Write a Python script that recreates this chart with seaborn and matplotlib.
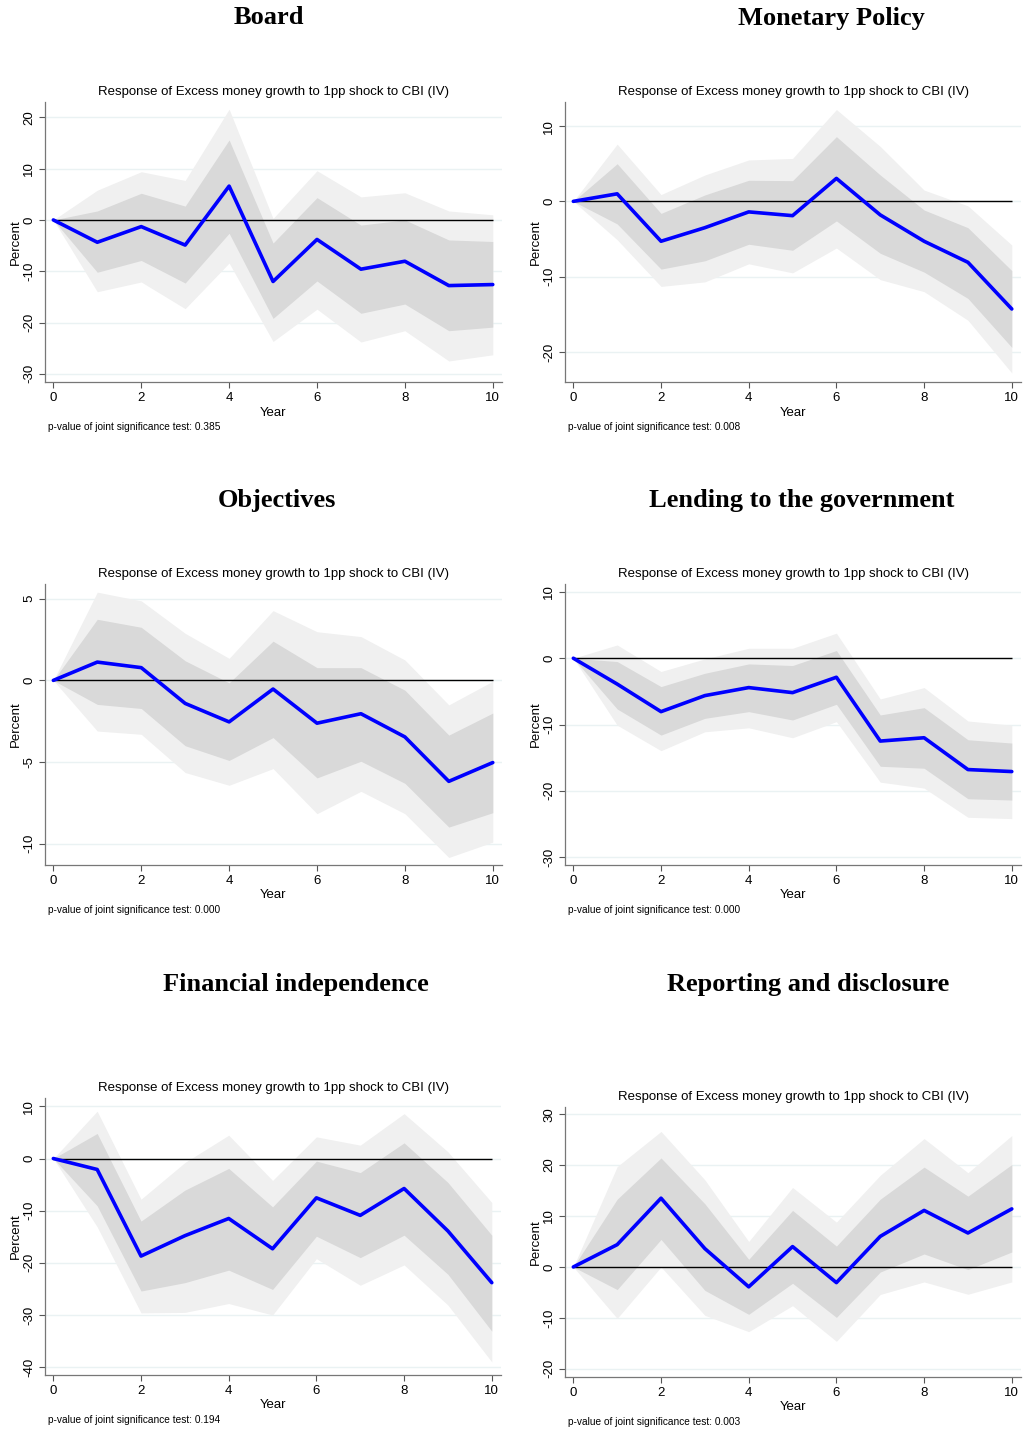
import numpy as np
import pandas as pd
import matplotlib.pyplot as plt
import seaborn as sns

# 기본 스타일
sns.set_style("white", {'xtick.bottom': True, 'ytick.left': True})
plt.rcParams['font.family'] = ['Liberation Sans', 'DejaVu Sans']
plt.rcParams['text.color'] = 'black'
plt.rcParams['axes.labelcolor'] = 'black'
plt.rcParams['xtick.color'] = 'black'
plt.rcParams['ytick.color'] = 'black'

years = list(range(11))

# Board
board_irf = [0, -4.35, -1.3, -4.9, 6.6, -12.0, -3.8, -9.6, -8.05, -12.8, -12.6]
board_hi68 = [0, 1.75, 5.2, 2.7, 15.6, -4.5, 4.35, -1.0, 0.0, -3.9, -4.2]
board_lo68 = [0, -10.2, -7.9, -12.3, -2.6, -19.2, -11.9, -18.2, -16.4, -21.6, -20.9]
board_hi90 = [0, 5.8, 9.4, 7.7, 21.6, 0.3, 9.6, 4.5, 5.3, 1.75, 1.0]
board_lo90 = [0, -14.0, -12.1, -17.3, -8.4, -23.7, -17.4, -23.8, -21.6, -27.5, -26.3]

# Monetary Policy
mp_irf = [0, 1.0, -5.3, -3.5, -1.4, -1.9, 3.05, -1.8, -5.3, -8.1, -14.3]
mp_hi68 = [0, 5.0, -1.6, 0.85, 2.8, 2.75, 8.6, 3.5, -1.15, -3.5, -9.2]
mp_lo68 = [0, -3.0, -9.0, -7.9, -5.7, -6.5, -2.6, -6.9, -9.4, -12.9, -19.4]
mp_hi90 = [0, 7.6, 0.9, 3.5, 5.5, 5.7, 12.2, 7.3, 1.5, -0.6, -5.8]
mp_lo90 = [0, -5.1, -11.3, -10.7, -8.3, -9.5, -6.2, -10.4, -12.0, -15.8, -22.8]

# Objectives
obj_irf = [0, 1.12, 0.78, -1.41, -2.54, -0.53, -2.62, -2.04, -3.46, -6.18, -5.03]
obj_hi68 = [0, 3.74, 3.25, 1.2, -0.15, 2.4, 0.78, 0.78, -0.6, -3.35, -2.0]
obj_lo68 = [0, -1.47, -1.72, -4.0, -4.9, -3.5, -5.97, -4.95, -6.3, -8.98, -8.1]
obj_hi90 = [0, 5.4, 4.87, 2.88, 1.35, 4.27, 2.98, 2.68, 1.25, -1.5, -0.05]
obj_lo90 = [0, -3.1, -3.3, -5.64, -6.42, -5.4, -8.16, -6.79, -8.16, -10.84, -9.9]

# Lending to the government
lend_irf = [0, -3.9, -8.06, -5.64, -4.43, -5.19, -2.87, -12.5, -12.0, -16.8, -17.1]
lend_hi68 = [0, -0.5, -4.28, -2.27, -0.86, -1.1, 1.16, -8.56, -7.46, -12.3, -12.8]
lend_lo68 = [0, -7.66, -11.6, -9.07, -8.06, -9.32, -6.95, -16.3, -16.6, -21.2, -21.4]
lend_hi90 = [0, 2.0, -2.0, -0.1, 1.5, 1.5, 3.78, -6.15, -4.43, -9.47, -10.1]
lend_lo90 = [0, -10.1, -13.95, -11.1, -10.5, -12.0, -9.57, -18.7, -19.6, -24.0, -24.2]

# Financial independence
fin_irf = [0, -2.1, -18.7, -14.8, -11.5, -17.3, -7.54, -10.9, -5.75, -13.9, -23.8]
fin_hi68 = [0, 4.8, -12.0, -6.07, -1.9, -9.27, -0.5, -2.7, 3.0, -4.6, -14.7]
fin_lo68 = [0, -9.07, -25.4, -23.8, -21.4, -25.1, -14.9, -19.0, -14.7, -22.2, -33.1]
fin_hi90 = [0, 9.07, -7.8, -0.77, 4.47, -4.2, 4.15, 2.56, 8.6, 1.28, -8.43]
fin_lo90 = [0, -13.1, -29.6, -29.5, -27.8, -30.0, -19.2, -24.3, -20.4, -28.1, -39.0]

# Reporting and disclosure
rep_irf = [0, 4.38, 13.5, 3.6, -3.9, 4.0, -3.07, 6.0, 11.1, 6.67, 11.4]
rep_hi68 = [0, 13.3, 21.4, 12.4, 1.5, 11.1, 4.1, 13.3, 19.6, 13.9, 20.1]
rep_lo68 = [0, -4.44, 5.4, -4.6, -9.3, -3.2, -9.9, -1.0, 2.55, -0.52, 2.94]
rep_hi90 = [0, 19.7, 26.6, 17.1, 5.0, 15.6, 8.8, 18.0, 25.2, 18.5, 25.8]
rep_lo90 = [0, -10.1, 0.0, -9.5, -12.7, -7.6, -14.6, -5.4, -2.94, -5.36, -2.94]

titles = ['Board', 'Monetary Policy', 'Objectives', 'Lending to the government',
          'Financial independence', 'Reporting and disclosure']
pvalues = ['0.385', '0.008', '0.000', '0.000', '0.194', '0.003']
yticks_list = [[-30, -20, -10, 0, 10, 20], [-20, -10, 0, 10], [-10, -5, 0, 5],
               [-30, -20, -10, 0, 10], [-40, -30, -20, -10, 0, 10], [-20, -10, 0, 10, 20, 30]]
ylims = [(-31.6, 23.0), (-24.0, 13.2), (-11.3, 5.9), (-31.2, 11.2), (-41.5, 11.6), (-21.6, 31.4)]

series = [
    (board_irf, board_hi68, board_lo68, board_hi90, board_lo90),
    (mp_irf, mp_hi68, mp_lo68, mp_hi90, mp_lo90),
    (obj_irf, obj_hi68, obj_lo68, obj_hi90, obj_lo90),
    (lend_irf, lend_hi68, lend_lo68, lend_hi90, lend_lo90),
    (fin_irf, fin_hi68, fin_lo68, fin_hi90, fin_lo90),
    (rep_irf, rep_hi68, rep_lo68, rep_hi90, rep_lo90),
]

# 패널 위치 (픽셀: 왼쪽, 위, 오른쪽, 아래)
W, H = 1024, 1429
boxes = [(45, 102, 502, 382), (565, 102, 1021, 382),
         (45, 584, 502, 865), (565, 584, 1021, 865),
         (45, 1098, 501, 1375), (565, 1107, 1021, 1377)]
title_pos = [(269, 18), (831, 18), (277, 501), (802, 501), (296, 985), (808, 985)]

fig = plt.figure(figsize=(W / 100, H / 100), dpi=100)

for i, (irf, hi68, lo68, hi90, lo90) in enumerate(series):
    x1, y1, x2, y2 = boxes[i]
    ax = fig.add_axes([x1 / W, 1 - y2 / H, (x2 - x1) / W, (y2 - y1) / H])
    df = pd.DataFrame({'Year': years, 'irf': irf, 'hi68': hi68, 'lo68': lo68,
                       'hi90': hi90, 'lo90': lo90})

    ax.fill_between(df['Year'], df['lo90'], df['hi90'], color='#f0f0f0', lw=0, zorder=1)
    ax.fill_between(df['Year'], df['lo68'], df['hi68'], color='#d9d9d9', lw=0, zorder=2)
    ax.hlines(0, years[0], years[-1], color='black', lw=1.0, zorder=3)
    sns.lineplot(data=df, x='Year', y='irf', ax=ax, color='#0000ff', lw=2.6, zorder=4)

    ax.set_xlim(-0.19, 10.21)
    ax.set_ylim(*ylims[i])
    ax.set_xticks([0, 2, 4, 6, 8, 10])
    ax.set_yticks(yticks_list[i])
    ax.set_yticklabels([str(t) for t in yticks_list[i]], rotation=90, va='center')
    ax.tick_params(axis='both', labelsize=9.5, length=4, width=0.8, color='#555555', pad=3)
    ax.grid(axis='y', color='#eaf2f3', lw=1.0, zorder=0)
    ax.set_axisbelow(True)
    for s in ['top', 'right']:
        ax.spines[s].set_visible(False)
    for s in ['left', 'bottom']:
        ax.spines[s].set_color('#777777')
        ax.spines[s].set_linewidth(0.9)

    ax.set_xlabel('Year', fontsize=9.5, labelpad=2)
    ax.set_ylabel('Percent', fontsize=9.5, labelpad=1)
    ax.set_title('Response of Excess money growth to 1pp shock to CBI (IV)', fontsize=9.5, pad=5)

    fig.text((x1 + 3) / W, 1 - (y2 + 45) / H,
             'p-value of joint significance test: ' + pvalues[i],
             fontsize=7.3, ha='left', va='center')

    tx, ty = title_pos[i]
    fig.text(tx / W, 1 - ty / H, titles[i], fontsize=19, fontweight='bold',
             family=['Liberation Serif', 'DejaVu Serif'], ha='center', va='center')

plt.savefig('out.png', dpi=100)
